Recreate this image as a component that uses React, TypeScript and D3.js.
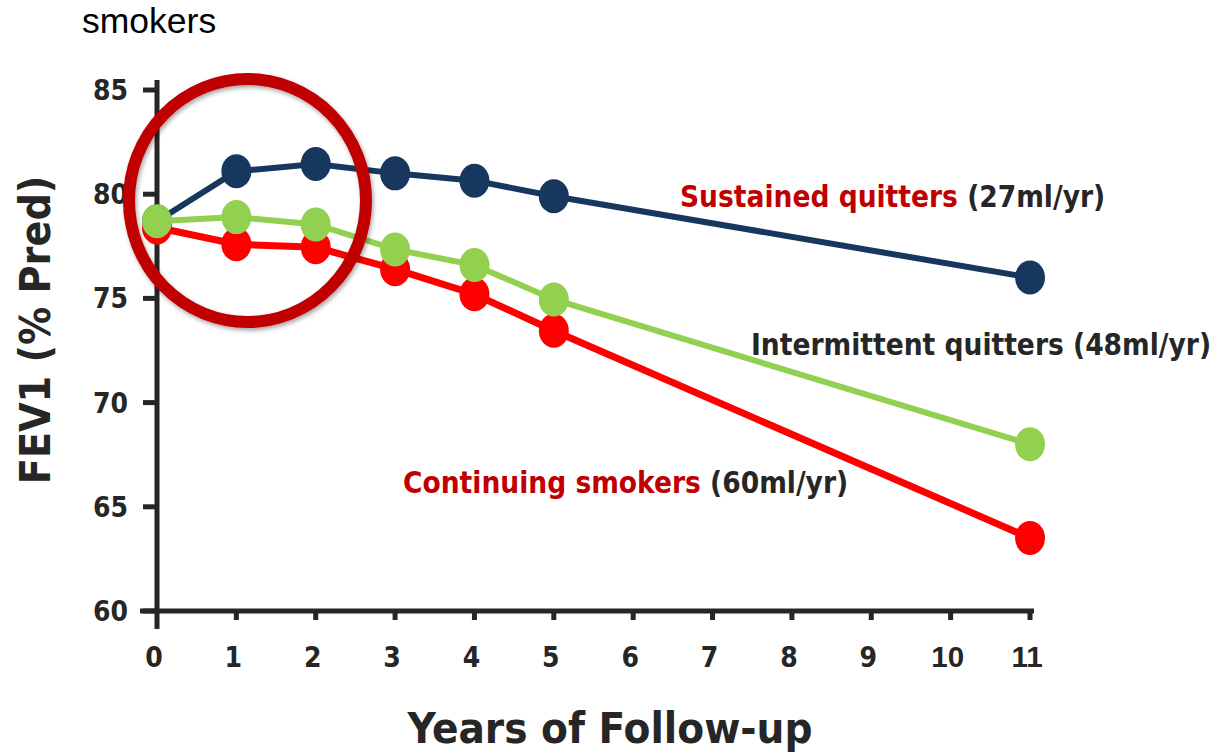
import React from "react";
import * as d3 from "d3";

// Follow-up years and FEV1 (% predicted) per group
const years = [0, 1, 2, 3, 4, 5, 11];
const sustainedQuitters = [78.7, 81.1, 81.45, 81.0, 80.65, 79.9, 76.0];
const intermittentQuitters = [78.7, 78.9, 78.55, 77.35, 76.6, 74.95, 68.0];
const continuingSmokers = [78.4, 77.6, 77.45, 76.4, 75.2, 73.45, 63.5];

const xTicks = [0, 1, 2, 3, 4, 5, 6, 7, 8, 9, 10, 11];
const yTicks = [60, 65, 70, 75, 80, 85];

const NAVY = "#17375e";
const GREEN = "#92d050";
const RED = "#ff0000";
const DARK_RED = "#c00000";
const INK = "#262626";

const W = 1218;
const H = 753;

const x = d3.scaleLinear().domain([0, 11]).range([157, 1030]);
const y = d3.scaleLinear().domain([60, 85]).range([611, 90]);

const line = d3
  .line<[number, number]>()
  .x((d) => x(d[0]))
  .y((d) => y(d[1]));

const series = [
  { name: "sustained", values: sustainedQuitters, color: NAVY, width: 6 },
  { name: "continuing", values: continuingSmokers, color: RED, width: 7 },
  { name: "intermittent", values: intermittentQuitters, color: GREEN, width: 6 },
];

const FONT = "'DejaVu Sans Condensed', 'DejaVu Sans', Verdana, sans-serif";
const ARIAL = "Arial, 'Liberation Sans', sans-serif";

export default function App() {
  return (
    <svg
      width={W}
      height={H}
      viewBox={`0 0 ${W} ${H}`}
      style={{ position: "absolute", left: 0, top: 0, background: "#fff" }}
    >
      <defs>
        <filter id="ringShadow" x="-20%" y="-20%" width="140%" height="140%">
          <feDropShadow dx="1.5" dy="2.5" stdDeviation="2" floodColor="#000" floodOpacity="0.35" />
        </filter>
      </defs>

      <text x={82} y={33} fontFamily={ARIAL} fontSize={35.5} fill="#000">
        smokers
      </text>

      {/* axes */}
      <g stroke={INK} strokeWidth={5} fill="none">
        <line x1={x(0)} x2={x(0)} y1={80} y2={629} />
        <line x1={140} x2={1034} y1={y(60)} y2={y(60)} />
        {yTicks.map((t) => (
          <line key={t} x1={143} x2={x(0)} y1={y(t)} y2={y(t)} />
        ))}
        {xTicks.slice(1).map((t) => (
          <line key={t} x1={x(t)} x2={x(t)} y1={y(60)} y2={y(60) + 9} />
        ))}
      </g>
      <g fontWeight="bold" fill={INK}>
        {yTicks.map((t) => (
          <text
            key={t}
            x={128}
            y={y(t)}
            dy="0.36em"
            textAnchor="end"
            fontFamily={FONT}
            fontSize={28}
          >
            {t}
          </text>
        ))}
        {xTicks.map((t) => (
          <text
            key={t}
            x={x(t) - 3}
            y={667}
            textAnchor="middle"
            fontFamily={t >= 10 ? ARIAL : FONT}
            fontSize={t >= 10 ? 29.5 : 28}
          >
            {t}
          </text>
        ))}
      </g>

      <text
        x={610}
        y={743}
        textAnchor="middle"
        fontFamily={FONT}
        fontWeight="bold"
        fontSize={43.5}
        fill={INK}
      >
        Years of Follow-up
      </text>
      <text
        transform="translate(50,330) rotate(-90)"
        textAnchor="middle"
        fontFamily={FONT}
        fontWeight="bold"
        fontSize={42.5}
        fill={INK}
      >
        FEV1 (% Pred)
      </text>

      {/* series */}
      {series.map((s) => {
        const pts = years.map((yr, i) => [yr, s.values[i]] as [number, number]);
        return (
          <g key={s.name}>
            <path d={line(pts) ?? ""} fill="none" stroke={s.color} strokeWidth={s.width} />
            {pts.map(([yr, v]) => (
              <ellipse key={yr} cx={x(yr)} cy={y(v)} rx={15} ry={17} fill={s.color} />
            ))}
          </g>
        );
      })}

      {/* highlight ring over the first two years */}
      <ellipse
        cx={247.5}
        cy={200.5}
        rx={118.5}
        ry={121.5}
        fill="none"
        stroke={DARK_RED}
        strokeWidth={12}
        filter="url(#ringShadow)"
      />

      {/* group labels */}
      <g fontFamily={FONT} fontWeight="bold" fontSize={29.5}>
        <text x={680} y={207}>
          <tspan fill={DARK_RED}>Sustained quitters</tspan>
          <tspan fill={INK}> (27ml/yr)</tspan>
        </text>
        <text x={751} y={355}>
          <tspan fill={INK}>Intermittent quitters (48ml/yr)</tspan>
        </text>
        <text x={403} y={493}>
          <tspan fill={DARK_RED}>Continuing smokers</tspan>
          <tspan fill={INK}> (60ml/yr)</tspan>
        </text>
      </g>
    </svg>
  );
}
